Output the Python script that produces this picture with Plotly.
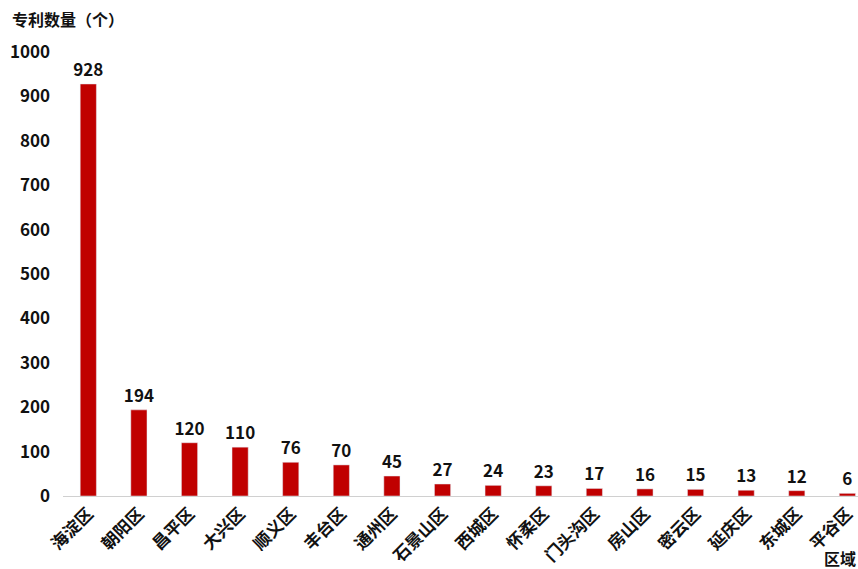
import plotly.graph_objects as go

districts = ["海淀区", "朝阳区", "昌平区", "大兴区", "顺义区", "丰台区", "通州区", "石景山区",
             "西城区", "怀柔区", "门头沟区", "房山区", "密云区", "延庆区", "东城区", "平谷区"]
patents = [928, 194, 120, 110, 76, 70, 45, 27, 24, 23, 17, 16, 15, 13, 12, 6]
y_ticks = [0, 100, 200, 300, 400, 500, 600, 700, 800, 900, 1000]

FONT = "Noto Sans CJK SC"

fig = go.Figure(go.Bar(
    x=list(range(len(districts))),
    y=patents,
    marker_color="#C00000",
    width=0.32,
    text=[str(v) for v in patents],
    textposition="outside",
    constraintext="none",
    cliponaxis=False,
    textfont=dict(family=FONT, size=17, color="#111111", weight="bold"),
))

fig.update_layout(
    width=858, height=569,
    margin=dict(l=63, r=0, t=52, b=73),
    paper_bgcolor="white", plot_bgcolor="white",
    showlegend=False,
    font=dict(family=FONT, color="#111111"),
    uniformtext=dict(minsize=17, mode="show"),
    xaxis=dict(
        range=[-0.5, 15.21],
        automargin=False,
        tickmode="array",
        tickvals=list(range(len(districts))),
        ticktext=districts,
        tickangle=-45,
        tickfont=dict(family=FONT, size=17, color="#111111", weight="bold"),
        showgrid=False, zeroline=False,
        showline=True, linecolor="#D0D0D0", linewidth=1,
        ticks="",
    ),
    yaxis=dict(
        range=[0, 1000],
        automargin=False,
        tickmode="array",
        tickvals=y_ticks,
        ticktext=[str(v) for v in y_ticks],
        tickfont=dict(family=FONT, size=17, color="#111111", weight="bold"),
        showgrid=False, zeroline=False, showline=False,
        ticks="", ticklabelstandoff=12,
    ),
    annotations=[
        dict(text="专利数量（个）", xref="paper", yref="paper", x=-0.067, y=1.0,
             xanchor="left", yanchor="bottom", yshift=19, showarrow=False,
             font=dict(family=FONT, size=16, color="#111111", weight="bold")),
        dict(text="区域", xref="paper", yref="paper", x=1.0, y=0,
             xanchor="right", yanchor="top", yshift=-48, showarrow=False,
             font=dict(family=FONT, size=16, color="#111111", weight="bold")),
    ],
)

fig.write_html(
    "out.html",
    config={"displayModeBar": False},
    post_script="document.body.style.margin='0';document.documentElement.style.overflow='hidden';document.body.style.overflow='hidden';",
)
